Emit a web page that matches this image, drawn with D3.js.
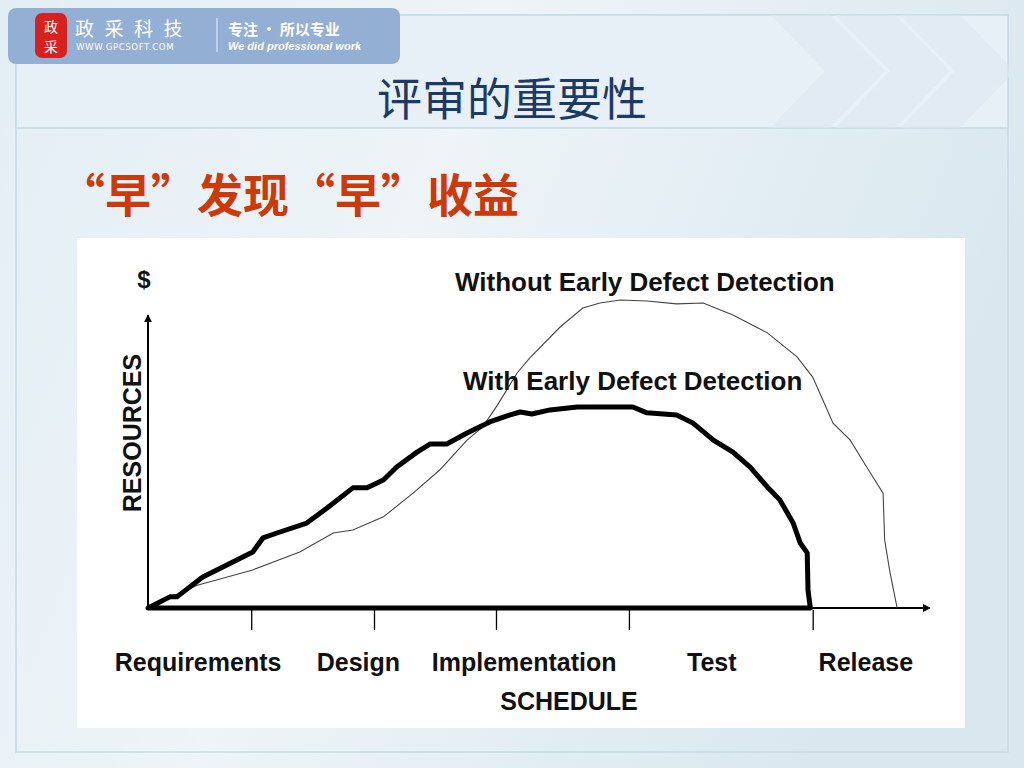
<!DOCTYPE html>
<html>
<head>
<meta charset="utf-8">
<script src="https://cdn.jsdelivr.net/npm/d3@7"></script>
<style>
  body { margin: 0; background: #e9f1f6; }
  svg { display: block; }
</style>
</head>
<body>
<div class="container"></div>
<script>
const WIDTH = 1024;
const HEIGHT = 768;

// schedule phases
var phases = ["Requirements", "Design", "Implementation", "Test", "Release"];
var phaseLabelAt = [6.4, 26.9, 48.1, 72.1, 91.8];
var phaseTickAt = [13.2, 28.9, 44.5, 61.5, 85.0];

// resources over schedule
var withX = [0, 2.8, 3.7, 7.0, 8.8, 13.4, 14.7, 16.5, 20.3, 22.9, 26.2, 28.0, 30.1, 31.8, 34.4, 36.1, 38.2, 40.8, 43.7, 46.3, 47.6, 49.1, 51.4, 54.9, 62.0, 63.8, 67.6, 69.7, 72.3, 74.8, 77.0, 79.2, 80.8, 82.5, 83.4, 84.3, 84.4, 84.7];
var withY = [0, 3.8, 3.8, 10.6, 13.0, 19.1, 23.9, 25.6, 29.0, 34.1, 41.0, 41.0, 43.7, 48.1, 53.2, 56.0, 56.0, 59.7, 63.5, 65.9, 66.9, 66.2, 67.6, 68.6, 68.6, 66.6, 65.9, 63.1, 57.3, 53.2, 48.1, 41.3, 36.9, 29.0, 22.2, 18.8, 6.1, 0];

var withoutX = [0, 6.3, 13.4, 19.4, 23.7, 26.2, 30.1, 33.9, 37.3, 40.8, 42.8, 44.6, 47.2, 48.8, 52.7, 55.6, 57.8, 60.4, 63.8, 67.6, 71.0, 74.8, 79.2, 83.0, 85.0, 86.3, 87.6, 89.8, 91.9, 94.0, 94.2, 94.9, 95.8];
var withoutY = [0.3, 7.8, 13.0, 19.1, 25.6, 26.6, 31.1, 39.2, 47.1, 57.3, 61.8, 68.9, 80.2, 85.3, 95.9, 102.4, 104.1, 105.1, 104.8, 103.8, 104.1, 100, 93.9, 85.7, 78.8, 71.0, 63.1, 57.3, 48.1, 39.2, 23.2, 11.9, 0];

var translate = function(x, y){
  return "translate(" + x + "," + y + ")";
};

var svg = d3.select('.container').append('svg')
  .attr('width', WIDTH)
  .attr('height', HEIGHT);

var defs = svg.append('defs');
var bg = defs.append('linearGradient').attr('id', 'bg')
  .attr('x1', 0).attr('y1', 0).attr('x2', 1).attr('y2', 0.3);
bg.append('stop').attr('offset', '0%').attr('stop-color', '#e3eef4');
bg.append('stop').attr('offset', '45%').attr('stop-color', '#eef4f8');
bg.append('stop').attr('offset', '100%').attr('stop-color', '#d9e8ef');

var arrow = defs.append('marker').attr('id', 'arrow')
  .attr('viewBox', '0 0 10 10').attr('refX', 9).attr('refY', 5)
  .attr('markerWidth', 8).attr('markerHeight', 8)
  .attr('markerUnits', 'userSpaceOnUse')
  .attr('orient', 'auto');
arrow.append('path').attr('d', 'M0,0 L10,5 L0,10 Z').attr('fill', '#000');

// slide background
svg.append('rect').attr('width', WIDTH).attr('height', HEIGHT).attr('fill', 'url(#bg)');
svg.append('rect')
  .attr('x', 16).attr('y', 15).attr('width', 992).attr('height', 737)
  .attr('fill', 'none').attr('stroke', '#c3dce4').attr('stroke-width', 1.5);
svg.append('rect')
  .attr('x', 16).attr('y', 15).attr('width', 992).attr('height', 113)
  .attr('fill', '#e8f0f7').attr('stroke', '#c3dce4').attr('stroke-width', 1.5);

// faint chevrons in the header
[770, 835, 900].forEach(function(cx){
  svg.append('path')
    .attr('d', 'M' + cx + ',15 L' + (cx + 55) + ',71 L' + cx + ',128 L' + (cx + 60) + ',128 L' + (cx + 115) + ',71 L' + (cx + 60) + ',15 Z')
    .attr('fill', '#dde7f1').attr('opacity', 0.6);
});

// logo block
var logo = svg.append('g');
logo.append('rect')
  .attr('x', 8).attr('y', 8).attr('width', 392).attr('height', 56).attr('rx', 8)
  .attr('fill', '#93afd3');
logo.append('rect')
  .attr('x', 35).attr('y', 13).attr('width', 32).attr('height', 45).attr('rx', 7)
  .attr('fill', '#d8201e');
logo.append('text').attr('x', 51).attr('y', 32).attr('text-anchor', 'middle')
  .attr('font-family', 'Noto Sans CJK SC').attr('font-size', 14).attr('fill', '#fff')
  .text('政');
logo.append('text').attr('x', 51).attr('y', 52).attr('text-anchor', 'middle')
  .attr('font-family', 'Noto Sans CJK SC').attr('font-size', 14).attr('fill', '#fff')
  .text('采');
logo.append('text').attr('x', 75).attr('y', 36)
  .attr('font-family', 'Noto Sans CJK SC').attr('font-size', 19).attr('fill', '#fff')
  .attr('letter-spacing', 10.5)
  .text('政采科技');
logo.append('text').attr('x', 76).attr('y', 50)
  .attr('font-family', 'DejaVu Sans').attr('font-size', 8.6).attr('fill', '#fff')
  .attr('letter-spacing', 0.6)
  .text('WWW.GPCSOFT.COM');
logo.append('line')
  .attr('x1', 217).attr('y1', 18).attr('x2', 217).attr('y2', 52)
  .attr('stroke', '#eef3fa').attr('stroke-width', 1);
logo.append('text').attr('x', 228).attr('y', 35)
  .attr('font-family', 'Noto Sans CJK SC').attr('font-size', 15).attr('font-weight', 'bold').attr('fill', '#fff')
  .text('专注 · 所以专业');
logo.append('text').attr('x', 228).attr('y', 50)
  .attr('font-family', 'Liberation Sans').attr('font-size', 11).attr('font-weight', 'bold')
  .attr('font-style', 'italic').attr('fill', '#fff')
  .text('We did professional work');

// titles
svg.append('text')
  .attr('x', 512).attr('y', 116).attr('text-anchor', 'middle')
  .attr('font-family', 'Noto Sans CJK SC').attr('font-size', 45).attr('fill', '#1d3a62')
  .text('评审的重要性');
svg.append('text')
  .attr('x', 59).attr('y', 212)
  .attr('font-family', 'Noto Sans CJK SC').attr('font-size', 46).attr('font-weight', 'bold')
  .attr('fill', '#cc3a0c')
  .text('“早”发现“早”收益');

// chart picture
svg.append('rect')
  .attr('x', 77).attr('y', 238).attr('width', 888).attr('height', 490)
  .attr('fill', '#fff');

var xScale = d3.scaleLinear().domain([0, 100]).range([148, 930]);
var yScale = d3.scaleLinear().domain([0, 100]).range([608, 315]);

var chart = svg.append('g')
  .attr('font-family', 'Liberation Sans, Arial, sans-serif')
  .attr('font-weight', 'bold');

// axes
chart.append('line')
  .attr('x1', xScale(0)).attr('y1', yScale(0))
  .attr('x2', xScale(0)).attr('y2', yScale(100))
  .attr('stroke', '#000').attr('stroke-width', 2)
  .attr('marker-end', 'url(#arrow)');
chart.append('line')
  .attr('x1', xScale(0)).attr('y1', yScale(0))
  .attr('x2', xScale(100)).attr('y2', yScale(0))
  .attr('stroke', '#000').attr('stroke-width', 2)
  .attr('marker-end', 'url(#arrow)');

var xAxis = d3.axisBottom(xScale)
  .tickValues(phaseTickAt)
  .tickSize(20)
  .tickSizeOuter(0)
  .tickFormat('');
var axisG = chart.append('g')
  .attr('transform', translate(0, yScale(0) + 2))
  .call(xAxis);
axisG.select('.domain').remove();
axisG.selectAll('.tick line').attr('stroke', '#000').attr('stroke-width', 1.3);

chart.selectAll('.phase')
  .data(phases)
  .enter().append('text')
  .classed('phase', true)
  .attr('x', function(d, i){ return xScale(phaseLabelAt[i]); })
  .attr('y', 671)
  .attr('text-anchor', 'middle')
  .attr('font-size', 25)
  .attr('fill', '#111')
  .text(function(d){ return d; });

chart.append('text')
  .attr('x', 569).attr('y', 710).attr('text-anchor', 'middle')
  .attr('font-size', 25).attr('fill', '#111')
  .text('SCHEDULE');

chart.append('text')
  .attr('transform', translate(141, 433) + ' rotate(-90)')
  .attr('text-anchor', 'middle')
  .attr('font-size', 25).attr('fill', '#111')
  .text('RESOURCES');

chart.append('text')
  .attr('x', 144).attr('y', 288).attr('text-anchor', 'middle')
  .attr('font-size', 24).attr('fill', '#111')
  .text('$');

// curves
var line = d3.line()
  .x(function(d){ return xScale(d[0]); })
  .y(function(d){ return yScale(d[1]); });

var withoutPts = withoutX.map(function(v, i){ return [v, withoutY[i]]; });
var withPts = withX.map(function(v, i){ return [v, withY[i]]; });

chart.append('path')
  .attr('d', line(withoutPts))
  .attr('fill', 'none').attr('stroke', '#444').attr('stroke-width', 1.1);

chart.append('path')
  .attr('d', line(withPts) + 'Z')
  .attr('fill', 'none').attr('stroke', '#000').attr('stroke-width', 5)
  .attr('stroke-linejoin', 'round');

chart.append('text')
  .attr('x', 455).attr('y', 291)
  .attr('font-size', 26).attr('fill', '#111')
  .text('Without Early Defect Detection');
chart.append('text')
  .attr('x', 463).attr('y', 390)
  .attr('font-size', 26).attr('fill', '#111')
  .text('With Early Defect Detection');
</script>
</body>
</html>
